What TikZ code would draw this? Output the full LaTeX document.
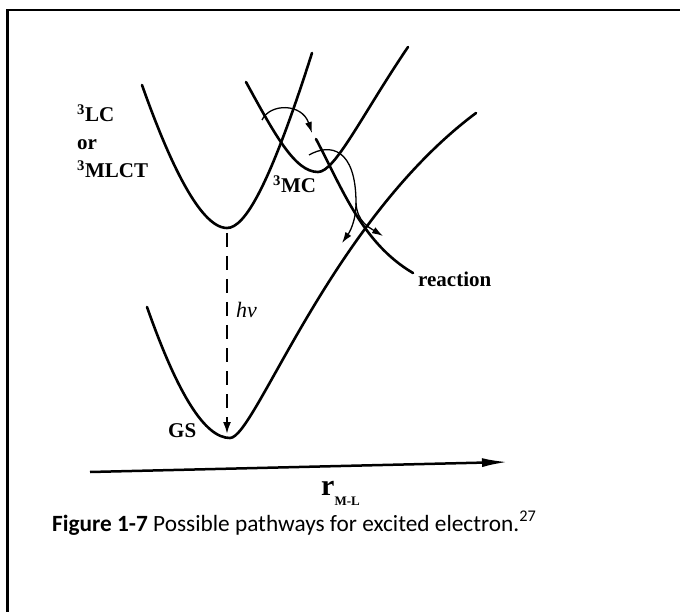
\documentclass[tikz,border=0pt]{standalone}
\usepackage{fontspec}
\setmainfont{Liberation Serif}
\newfontfamily\capfont{Carlito}
\usetikzlibrary{arrows.meta, positioning}

\begin{document}
\begin{tikzpicture}[x=1pt, y=-1pt,
  pes/.style={line width=2.6pt, line cap=round},
  path/.style={line width=1.3pt, -{Latex[length=11pt,width=7pt]}},
  lbl/.style={font=\fontsize{21}{28}\selectfont\bfseries, inner sep=0pt, anchor=base west}
]
  \useasboundingbox (0,0) rectangle (680,612);
  \draw[line width=2.5pt] (7.5,612) -- (7.5,10) -- (680,10);

  % potential energy curves
  \coordinate (lcL) at (142,85);  \coordinate (lcmin) at (227,228); \coordinate (lcR) at (312,53);
  \coordinate (mcL) at (246,82);  \coordinate (mcmin) at (318,172); \coordinate (mcR) at (408,47);
  \coordinate (gsL) at (147,307); \coordinate (gsmin) at (230,438); \coordinate (gsR) at (476,113);
  \coordinate (dsA) at (316,139); \coordinate (dsB) at (413,273);

  \draw[pes] (lcL) .. controls (165,150) and (198,228) .. (lcmin)
             .. controls (245,228) and (270,185) .. (lcR);
  \draw[pes] (mcL) .. controls (275,135) and (295,172) .. (mcmin)
             .. controls (335,172) and (362,115) .. (mcR);
  \draw[pes] (gsL) .. controls (178,395) and (205,438) .. (gsmin)
             .. controls (255,438) and (330,222) .. (gsR);
  \draw[pes] (dsA) .. controls (342,188) and (362,243) .. (dsB);

  % transitions
  \coordinate (t1a) at (262,120); \coordinate (t1b) at (312,133);
  \draw[path] (t1a) .. controls (270,103) and (302,103) .. (t1b);

  \coordinate (t2a) at (309,155); \coordinate (t2m) at (356,203);
  \coordinate (t2l) at (342,243); \coordinate (t2r) at (383,236);
  \draw[line width=1.3pt] (t2a) .. controls (330,143) and (356,148) .. (t2m);
  \draw[path] (t2m) .. controls (356,222) and (349,233) .. (t2l);
  \draw[path] (t2m) .. controls (357,222) and (370,228) .. (t2r);

  \coordinate (hvtop) at (227,233); \coordinate (hvbot) at (227,434);
  \draw[line width=2pt, dash pattern=on 14pt off 9pt,
        -{Latex[length=12pt,width=8pt]}] (hvtop) -- (hvbot);

  % axis
  \coordinate (ax0) at (90,472); \coordinate (ax1) at (508,462);
  \draw[line width=2.5pt, -{Latex[length=26pt,width=9pt]}] (ax0) -- (ax1);

  % labels
  \node[lbl, align=left] (exc) at (77,178)
    {\textsuperscript{3}LC\\or\\\textsuperscript{3}MLCT};
  \node[lbl] (mc) at (273,193) {\textsuperscript{3}MC};
  \node[lbl] (gs) at (168,437) {GS};
  \node[lbl] (rx) at (418,287) {reaction};
  \node[lbl, font=\fontsize{22}{26}\selectfont\itshape] (hv) at (236,317) {hν};
  \node[lbl, font=\fontsize{30}{30}\selectfont\bfseries] (r) at (321,495)
    {r\raisebox{-10pt}{\fontsize{13}{13}\selectfont M-L}};

  \node[inner sep=0pt, anchor=base west, font=\capfont\fontsize{23.3}{27}\selectfont] (cap) at (52,531)
    {\textbf{Figure 1-7} Possible pathways for excited electron.\textsuperscript{27}};
\end{tikzpicture}
\end{document}
